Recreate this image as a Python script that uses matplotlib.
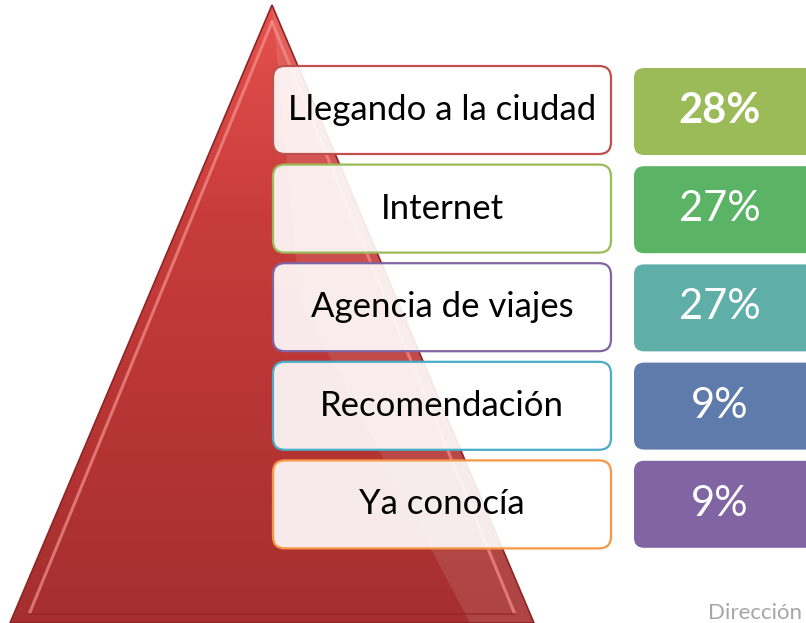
import numpy as np
import matplotlib.pyplot as plt
from matplotlib.patches import FancyBboxPatch, Polygon
from matplotlib.colors import LinearSegmentedColormap

plt.rcParams['font.family'] = ['Lato', 'DejaVu Sans']

labels = ["Llegando a la ciudad", "Internet", "Agencia de viajes", "Recomendación", "Ya conocía"]
values = [28, 27, 27, 9, 9]
edge_colors = ["#C0504D", "#9BBB59", "#8064A2", "#4BACC6", "#F79646"]
fill_colors = ["#9BBB59", "#5BB466", "#5FAFA8", "#5F7BAB", "#8165A3"]

W, H = 806, 623
fig = plt.figure(figsize=(W / 100, H / 100), dpi=100)
ax = fig.add_axes([0, 0, 1, 1])
ax.set_xlim(0, W)
ax.set_ylim(H, 0)
ax.axis('off')

# pyramid with vertical red gradient
apex = (272, 5)
base_l = (10, 623)
base_r = (534, 623)
tri = Polygon([apex, base_l, base_r], closed=True, facecolor='none', edgecolor='#8E2424', lw=1.2, zorder=2)
ax.add_patch(tri)
red = LinearSegmentedColormap.from_list('red', ['#E6514E', '#C83D3B', '#B73535', '#A52F2F'])
grad = np.linspace(0, 1, 256).reshape(-1, 1)
im = ax.imshow(grad, cmap=red, extent=[0, 540, 623, 5], aspect='auto', zorder=1)
im.set_clip_path(tri)

# bevel highlights along the edges
ridge = Polygon([apex, (300, 300), (470, 623), (534, 623)], closed=True,
                facecolor='white', alpha=0.10, edgecolor='none', zorder=1.5)
ax.add_patch(ridge)
ax.plot([272, 30], [22, 612], color='#F4918C', lw=2.2, alpha=0.7, zorder=2)
ax.plot([272, 514], [22, 612], color='#F4918C', lw=2.2, alpha=0.7, zorder=2)
ax.plot([30, 514], [614, 614], color='#8E2626', lw=1.5, alpha=0.6, zorder=2)

row_h = 98.6
for i, (lab, val) in enumerate(zip(labels, values)):
    top = 66 + i * row_h
    box = FancyBboxPatch((273, top), 338, 88, boxstyle="round,pad=0,rounding_size=12",
                         facecolor='white', alpha=0.9, edgecolor='none', zorder=3)
    ax.add_patch(box)
    border = FancyBboxPatch((273, top), 338, 88, boxstyle="round,pad=0,rounding_size=12",
                            facecolor='none', edgecolor=edge_colors[i], lw=1.6, zorder=4)
    ax.add_patch(border)
    ax.text(442, top + 44, lab, ha='center', va='center', fontsize=25, color='black', zorder=5)

    ptop = 68 + i * 98.2
    pbox = FancyBboxPatch((634, ptop), 200, 87, boxstyle="round,pad=0,rounding_size=10",
                          facecolor=fill_colors[i], edgecolor='none', zorder=3)
    ax.add_patch(pbox)
    ax.text(720, ptop + 43, f"{val}%", ha='center', va='center', fontsize=30, color='white',
            fontweight='bold' if i == 0 else 'normal', zorder=5)

# source note at the bottom right
ax.text(802, 619, "Dirección", ha='right', va='baseline', fontsize=16, color='#A6A6A6', zorder=5)

fig.savefig('out.png', dpi=100)
